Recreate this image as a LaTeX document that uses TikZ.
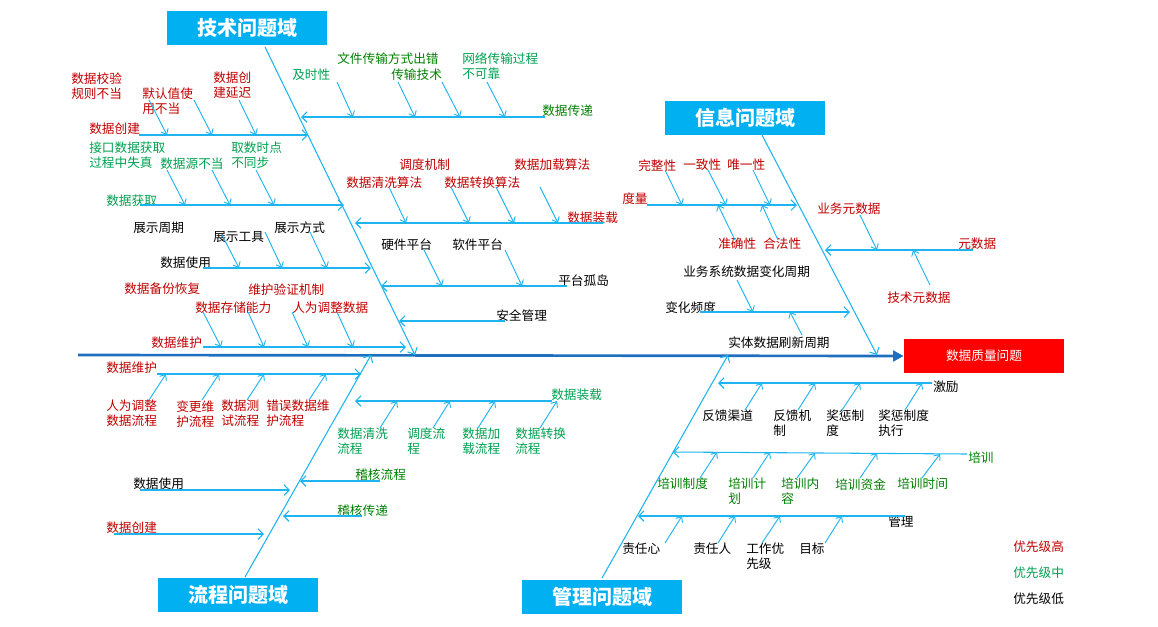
\documentclass[tikz,border=0pt]{standalone}
\usepackage{fontspec}
\setmainfont{Noto Sans CJK SC}
\usetikzlibrary{arrows.meta}
\definecolor{bl}{HTML}{1EB4F0}
\definecolor{dom}{HTML}{00B0F0}
\definecolor{rd}{HTML}{C00000}
\definecolor{gn}{HTML}{00A050}
\definecolor{gd}{HTML}{008000}
\definecolor{spine}{HTML}{1F6FC0}
\tikzset{
  lab/.style={anchor=north west,inner sep=0pt,align=left,font=\fontsize{9.5}{11.25}\selectfont},
  ln/.style={draw=bl,line width=0.8pt,-{Straight Barb[length=4pt,width=8pt]}},
  sl/.style={draw=bl,line width=0.7pt,-{Straight Barb[length=3.5pt,width=6pt]}},
  dombox/.style={fill=dom,text=white,minimum width=120pt,minimum height=26pt,inner sep=0pt,font=\fontsize{15}{16}\selectfont\bfseries},
}
\newcommand\Lb[4]{\node[lab,text=#2] (#1) at (#3) {#4};}
\newcommand\Ar[2]{\draw[sl] (#1) -- (#2);}
\newcommand\Ln[2]{\draw[ln] (#1) -- (#2);}
\begin{document}
\begin{tikzpicture}[x=0.75pt,y=-0.75pt]
\useasboundingbox (0,0) rectangle (1158,626);
% spine
\node[fill=red,text=white,minimum width=120pt,minimum height=25pt,inner sep=0pt,font=\fontsize{9.5}{10}\selectfont] (head) at (984,356) {数据质量问题};
\coordinate (s0) at (78,355);
\draw[spine,line width=2pt,-{Triangle[length=8pt,width=8pt]}] (s0) -- (head.west);
% domain boxes
\node[dombox] (tech) at (247,28) {技术问题域};
\node[dombox] (info) at (745,118) {信息问题域};
\node[dombox] (proc) at (238,595) {流程问题域};
\node[dombox] (mgmt) at (602,597) {管理问题域};
\coordinate (tb) at (265,47); \coordinate (te) at (415,355);
\coordinate (ib) at (762,135); \coordinate (ie) at (877,355);
\coordinate (pb) at (245,577); \coordinate (pe) at (371,355);
\coordinate (mb) at (602,578); \coordinate (me) at (728,355);
\Ln{tb}{te} \Ln{ib}{ie} \Ln{pb}{pe} \Ln{mb}{me}
% ---------- tech left
\Lb{t1}{rd}{71,72}{数据校验\\规则不当}
\Lb{t2}{rd}{142,88}{默认值使\\用不当}
\Lb{t3}{rd}{213,72}{数据创\\建延迟}
\Lb{t4}{rd}{89,123}{数据创建}
\Ln{139,135}{308,135}
\Ar{149,100}{167,135} \Ar{194,100}{212,135} \Ar{239,100}{256,135}
\Lb{t5}{gn}{89,142}{接口数据获取\\过程中失真}
\Lb{t6}{gn}{160,158}{数据源不当}
\Lb{t7}{gn}{231,142}{取数时点\\不同步}
\Lb{t8}{gn}{106,195}{数据获取}
\Ln{140,205}{344,205}
\Ar{167,170}{185,205} \Ar{212,170}{230,205} \Ar{256,170}{274,205}
\Lb{t9}{black}{133,222}{展示周期}
\Lb{t10}{black}{213,231}{展示工具}
\Lb{t11}{black}{274,222}{展示方式}
\Lb{t12}{black}{160,257}{数据使用}
\Ln{203,268}{371,268}
\Ar{222,235}{239,268} \Ar{265,232}{282,268} \Ar{310,232}{327,268}
\Lb{t13}{rd}{124,283}{数据备份恢复}
\Lb{t14}{rd}{248,283}{维护验证机制}
\Lb{t15}{rd}{195,302}{数据存储能力}
\Lb{t16}{rd}{292,302}{人为调整数据}
\Lb{t17}{rd}{151,337}{数据维护}
\Ln{203,347}{406,347}
\Ar{203,312}{221,347} \Ar{248,312}{264,347} \Ar{292,312}{308,347} \Ar{337,312}{353,347}
% ---------- tech right
\Lb{t18}{gn}{292,69}{及时性}
\Lb{t19}{gd}{337,52}{文件传输方式出错}
\Lb{t20}{gd}{391,69}{传输技术}
\Lb{t21}{gn}{462,52}{网络传输过程\\不可靠}
\Lb{t22}{gd}{542,105}{数据传递}
\Ln{545,117}{301,117}
\Ar{337,82}{353,117} \Ar{398,82}{415,117} \Ar{442,82}{460,117} \Ar{487,82}{505,117}
\Lb{t23}{rd}{399,159}{调度机制}
\Lb{t24}{rd}{514,159}{数据加载算法}
\Lb{t25}{rd}{346,177}{数据清洗算法}
\Lb{t26}{rd}{444,177}{数据转换算法}
\Lb{t27}{rd}{567,212}{数据装载}
\Ln{603,223}{355,223}
\Ar{389,187}{406,223} \Ar{451,187}{469,223} \Ar{496,187}{514,223} \Ar{540,187}{558,223}
\Lb{t28}{black}{381,239}{硬件平台}
\Lb{t29}{black}{452,239}{软件平台}
\Lb{t30}{black}{558,275}{平台孤岛}
\Ln{567,286}{381,286}
\Ar{424,250}{442,286} \Ar{505,250}{522,286}
\Lb{t31}{black}{496,309}{安全管理}
\Ln{505,321}{399,321}
% ---------- info
\Lb{i1}{rd}{638,159}{完整性}
\Lb{i2}{rd}{683,159}{一致性}
\Lb{i3}{rd}{727,159}{唯一性}
\Lb{i4}{rd}{622,193}{度量}
\Ln{647,205}{797,205}
\Ar{665,170}{682,205} \Ar{708,170}{726,205} \Ar{753,170}{770,205}
\Lb{i5}{rd}{718,238}{准确性}
\Lb{i6}{rd}{763,238}{合法性}
\Ar{735,240}{718,205} \Ar{778,240}{762,205}
\Lb{i7}{rd}{817,203}{业务元数据}
\Lb{i8}{rd}{958,238}{元数据}
\Lb{i9}{rd}{887,292}{技术元数据}
\Ln{973,250}{825,250}
\Ar{860,215}{877,250} \Ar{930,285}{913,250}
\Lb{i10}{black}{683,265}{业务系统数据变化周期}
\Lb{i11}{black}{665,301}{变化频度}
\Lb{i12}{black}{728,336}{实体数据刷新周期}
\Ln{700,312}{850,312}
\Ar{737,280}{753,312} \Ar{802,335}{790,312}
% ---------- process
\Lb{p1}{rd}{106,362}{数据维护}
\Ln{157,374}{361,374}
\Lb{p2}{rd}{106,400}{人为调整\\数据流程}
\Lb{p3}{rd}{176,400}{变更维\\护流程}
\Lb{p4}{rd}{221,400}{数据测\\试流程}
\Lb{p5}{rd}{266,400}{错误数据维\\护流程}
\Ar{149,400}{166,374} \Ar{202,400}{219,374} \Ar{247,400}{264,374} \Ar{309,400}{326,374}
\Lb{p6}{gn}{551,389}{数据装载}
\Ln{552,401}{355,401}
\Lb{p7}{gn}{337,428}{数据清洗\\流程}
\Lb{p8}{gn}{407,428}{调度流\\程}
\Lb{p9}{gn}{462,428}{数据加\\载流程}
\Lb{p10}{gn}{515,428}{数据转换\\流程}
\Ar{380,428}{397,401} \Ar{433,428}{450,401} \Ar{478,428}{495,401} \Ar{540,428}{557,401}
\Lb{p11}{gd}{355,469}{稽核流程}
\Ln{380,481}{300,481}
\Lb{p12}{black}{133,478}{数据使用}
\Ln{140,490}{290,490}
\Lb{p13}{gd}{337,505}{稽核传递}
\Ln{362,516}{283,516}
\Lb{p14}{rd}{106,522}{数据创建}
\Ln{114,534}{264,534}
% ---------- management
\Lb{m1}{black}{933,381}{激励}
\Ln{932,383}{718,383}
\Lb{m2}{black}{702,410}{反馈渠道}
\Lb{m3}{black}{773,410}{反馈机\\制}
\Lb{m4}{black}{826,410}{奖惩制\\度}
\Lb{m5}{black}{878,410}{奖惩制度\\执行}
\Ar{745,410}{762,383} \Ar{798,410}{815,383} \Ar{842,410}{860,383} \Ar{905,410}{922,383}
\Lb{m6}{gd}{968,452}{培训}
\Ln{967,454}{673,452}
\Lb{m7}{gd}{657,478}{培训制度}
\Lb{m8}{gd}{728,478}{培训计\\划}
\Lb{m9}{gd}{781,478}{培训内\\容}
\Lb{m10}{gd}{835,478}{培训资金}
\Lb{m11}{gd}{897,478}{培训时间}
\Ar{700,478}{717,452} \Ar{753,478}{770,452} \Ar{797,478}{815,453} \Ar{860,478}{877,453} \Ar{922,478}{940,454}
\Lb{m12}{black}{888,516}{管理}
\Ln{905,516}{638,516}
\Lb{m13}{black}{622,543}{责任心}
\Lb{m14}{black}{693,543}{责任人}
\Lb{m15}{black}{746,543}{工作优\\先级}
\Lb{m16}{black}{799,543}{目标}
\Ar{665,543}{682,516} \Ar{718,543}{735,516} \Ar{762,543}{780,516} \Ar{825,543}{842,516}
% legend
\Lb{g1}{rd}{1013,541}{优先级高}
\Lb{g2}{gn}{1013,567}{优先级中}
\Lb{g3}{black}{1013,593}{优先级低}
\end{tikzpicture}
\end{document}
